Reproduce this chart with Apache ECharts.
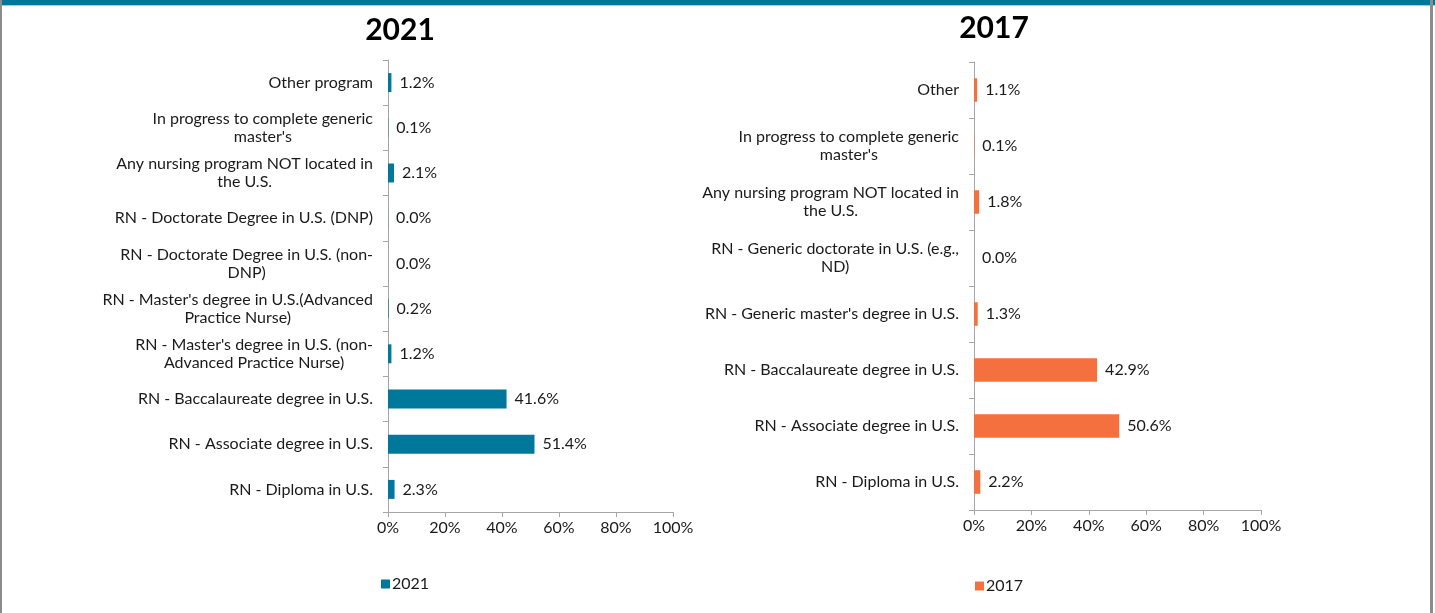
<!DOCTYPE html>
<html>
<head>
<meta charset="utf-8">
<script src="https://cdn.jsdelivr.net/npm/echarts@6/dist/echarts.min.js"></script>
<style>
html,body{margin:0;padding:0;background:#fff;}
#chart{width:1435px;height:613px;}
</style>
</head>
<body>
<div id="chart"></div>
<script>
// Data (top to bottom order)
const categories2021 = [
  "Other program",
  "In progress to complete generic\nmaster's",
  "Any nursing program NOT located in\nthe U.S.",
  "RN - Doctorate Degree in U.S. (DNP)",
  "RN - Doctorate Degree in U.S. (non-\nDNP)",
  "RN - Master's degree in U.S.(Advanced\nPractice Nurse)",
  "RN - Master's degree in U.S. (non-\nAdvanced Practice Nurse)",
  "RN - Baccalaureate degree in U.S.",
  "RN - Associate degree in U.S.",
  "RN - Diploma in U.S."
];
const values2021 = [1.2, 0.1, 2.1, 0.04, 0.0, 0.2, 1.2, 41.6, 51.4, 2.3];

const categories2017 = [
  "Other",
  "In progress to complete generic\nmaster's",
  "Any nursing program NOT located in\nthe U.S.",
  "RN - Generic doctorate in U.S. (e.g.,\nND)",
  "RN - Generic master's degree in U.S.",
  "RN - Baccalaureate degree in U.S.",
  "RN - Associate degree in U.S.",
  "RN - Diploma in U.S."
];
const values2017 = [1.1, 0.1, 1.8, 0.0, 1.3, 42.9, 50.6, 2.2];

const xTicks = [0, 20, 40, 60, 80, 100];

const FONT = 'Lato';
const FS = 16;
const TEXT = '#1a1a1a';
const C2021 = '#00789C';
const C2017 = '#F4703E';
const AXIS = '#a6a6a6';

function xAxisCfg(gi) {
  return {
    type: 'value', gridIndex: gi, min: xTicks[0], max: xTicks[xTicks.length-1], interval: 20,
    axisLine: {show: true, lineStyle: {color: AXIS, width: 1}},
    axisTick: {show: true, length: 5, lineStyle: {color: AXIS}},
    splitLine: {show: false},
    axisLabel: {formatter: v => v + '%', fontFamily: FONT, fontSize: FS, color: TEXT, margin: 8}
  };
}
function yAxisCfg(gi, cats) {
  return {
    type: 'category', gridIndex: gi, data: cats, inverse: true,
    axisLine: {show: true, lineStyle: {color: AXIS, width: 1}},
    axisTick: {show: true, length: 5, alignWithLabel: false, lineStyle: {color: AXIS}},
    axisLabel: {
      margin: 15, align: 'right', color: TEXT, fontFamily: FONT, fontSize: FS, lineHeight: 18,
      formatter: v => v.split('\n').map(s => '{c|' + s + '}').join('\n'),
      rich: {c: {align: 'center', fontFamily: FONT, fontSize: FS, lineHeight: 18, color: TEXT}}
    }
  };
}
function seriesCfg(name, gi, vals, color) {
  return {
    name: name, type: 'bar', xAxisIndex: gi, yAxisIndex: gi, data: vals,
    barCategoryGap: '58%',
    itemStyle: {color: color},
    label: {show: true, position: 'right', distance: 8, fontFamily: FONT, fontSize: FS, color: TEXT,
      formatter: p => p.value.toFixed(1) + '%'}
  };
}

const chart = echarts.init(document.getElementById('chart'), null, {renderer: 'canvas'});
chart.setOption({
  animation: false,
  backgroundColor: '#fff',
  title: [
    {text: '2021', left: 395, top: 10, textAlign: 'center',
      textStyle: {fontFamily: FONT, fontWeight: 'bold', fontSize: 30, color: '#000'}},
    {text: '2017', left: 989, top: 8, textAlign: 'center',
      textStyle: {fontFamily: FONT, fontWeight: 'bold', fontSize: 30, color: '#000'}}
  ],
  legend: [
    {data: ['2021'], left: 376, top: 571, icon: 'rect', itemWidth: 9, itemHeight: 9, itemGap: 3,
      textStyle: {fontFamily: FONT, fontSize: FS, color: TEXT, padding: [0,0,0,-3]}},
    {data: ['2017'], left: 970, top: 573, icon: 'rect', itemWidth: 9, itemHeight: 9, itemGap: 3,
      textStyle: {fontFamily: FONT, fontSize: FS, color: TEXT, padding: [0,0,0,-3]}}
  ],
  grid: [
    {left: 388, right: 1435 - 673, top: 60, bottom: 613 - 512, containLabel: false},
    {left: 974, right: 1435 - 1261, top: 62, bottom: 613 - 510, containLabel: false}
  ],
  xAxis: [xAxisCfg(0), xAxisCfg(1)],
  yAxis: [yAxisCfg(0, categories2021), yAxisCfg(1, categories2017)],
  series: [
    seriesCfg('2021', 0, values2021, C2021),
    seriesCfg('2017', 1, values2017, C2017)
  ],
  graphic: [
    {type: 'rect', shape: {x: 0, y: 0, width: 1435, height: 5}, style: {fill: '#00789C'}, silent: true},
    {type: 'rect', shape: {x: 0, y: 5, width: 1435, height: 1}, style: {fill: '#8fd3e8'}, silent: true},
    {type: 'rect', shape: {x: 0, y: 0, width: 2, height: 613}, style: {fill: '#8c8c8c'}, silent: true},
    {type: 'rect', shape: {x: 1430, y: 0, width: 3, height: 613}, style: {fill: '#8c8c8c'}, silent: true}
  ]
});
</script>
</body>
</html>
